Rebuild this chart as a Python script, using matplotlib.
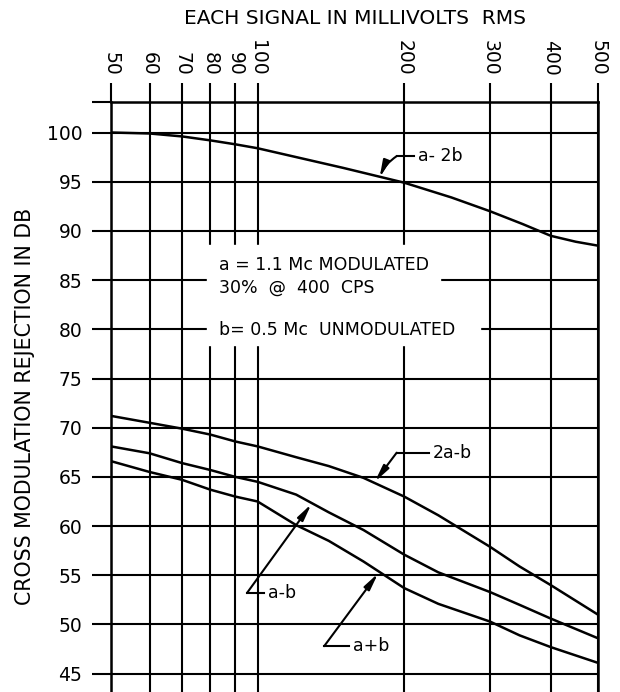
import numpy as np
import matplotlib
matplotlib.use("Agg")
import matplotlib.pyplot as plt
from matplotlib.patches import Rectangle
from matplotlib.ticker import FixedLocator, NullLocator, FixedFormatter

plt.rcParams['font.family'] = ['DejaVu Sans']

# data (millivolts rms, dB)
x_ticks = [50, 60, 70, 80, 90, 100, 200, 300, 400, 500]
y_ticks = [45, 50, 55, 60, 65, 70, 75, 80, 85, 90, 95, 100]

x_a2b = [50, 60, 70, 80, 90, 100, 150, 200, 250, 300, 350, 400, 450, 500]
y_a2b = [100.0, 99.9, 99.6, 99.2, 98.8, 98.4, 96.4, 94.9, 93.4, 92.0, 90.7, 89.5, 88.9, 88.5]

x_mv = [50, 60, 70, 80, 90, 100, 120, 140, 165, 200, 235, 300, 345, 400, 500]
y_2ab = [71.2, 70.5, 69.9, 69.3, 68.6, 68.1, 67.0, 66.1, 64.9, 63.0, 61.1, 57.9, 55.9, 54.0, 51.0]
y_amb = [68.1, 67.4, 66.4, 65.7, 65.0, 64.5, 63.2, 61.4, 59.6, 57.1, 55.3, 53.3, 52.0, 50.6, 48.6]
y_apb = [66.6, 65.5, 64.7, 63.7, 63.0, 62.5, 60.1, 58.5, 56.4, 53.7, 52.1, 50.3, 48.9, 47.7, 46.1]

fig = plt.figure(figsize=(6.2, 6.92), dpi=100)
ax = fig.add_axes([111/620, 0, 487/620, 590/692])
ax.set_xscale('log')
ax.set_xlim(50, 500)
ytop = 103.1
ax.set_ylim(43.14, ytop)

ax.xaxis.set_major_locator(FixedLocator(x_ticks))
ax.xaxis.set_minor_locator(NullLocator())
ax.xaxis.set_major_formatter(FixedFormatter([str(v) for v in x_ticks]))
ax.set_yticks(y_ticks + [ytop])
ax.set_yticklabels([str(v) for v in y_ticks] + [''])

ax.xaxis.tick_top()
ax.tick_params(axis='x', which='major', direction='out', length=13.7, width=1.5,
               pad=5, labelsize=13.5, labelrotation=-90, top=True, bottom=False)
ax.tick_params(axis='y', direction='out', length=13.7, width=1.5, pad=7, labelsize=13.5)
for lab in ax.get_xticklabels():
    lab.set_rotation(-90)
    lab.set_ha('center')
    lab.set_va('bottom')

ax.grid(True, color='black', lw=1.5)
for s in ['top', 'left', 'right']:
    ax.spines[s].set_linewidth(1.8)
ax.spines['bottom'].set_visible(False)

lw = 1.8
ax.plot(x_a2b, y_a2b, color='black', lw=lw, zorder=3)
ax.plot(x_mv, y_2ab, color='black', lw=lw, zorder=3)
ax.plot(x_mv, y_amb, color='black', lw=lw, zorder=3)
ax.plot(x_mv, y_apb, color='black', lw=lw, zorder=3)

# white patches behind the note
ax.add_patch(Rectangle((78.7, 81.96), 237 - 78.7, 88.57 - 81.96, color='white', zorder=2))
ax.add_patch(Rectangle((78.7, 78.4), 286 - 78.7, 81.96 - 78.4, color='white', zorder=2))
ax.text(83.3, 86.5, 'a = 1.1 Mc MODULATED', fontsize=12.5, va='center', ha='left', zorder=4)
ax.text(83.3, 84.2, '30%  @  400  CPS', fontsize=12.5, va='center', ha='left', zorder=4)
ax.text(83.3, 79.9, 'b= 0.5 Mc  UNMODULATED', fontsize=12.5, va='center', ha='left', zorder=4)

arrow = dict(arrowstyle='-|>,head_length=1.0,head_width=0.2', color='black', lw=1.5,
             shrinkA=0, shrinkB=0)

def label(txt, corner, tip, text_x, rad=0.0):
    ax.plot([corner[0], text_x * 0.98], [corner[1], corner[1]], color='black', lw=1.5, zorder=4)
    a = dict(arrow)
    a['connectionstyle'] = 'arc3,rad=%s' % rad
    ax.annotate('', xy=tip, xytext=corner, arrowprops=a, zorder=4)
    ax.text(text_x, corner[1], txt, fontsize=12.5, va='center', ha='left', zorder=4)

label('a- 2b', (193, 97.6), (178, 95.4), 213.4, rad=0.15)
label('2a-b', (193, 67.46), (174, 64.5), 229)
label('a-b', (95.1, 53.2), (129, 62.25), 105)
label('a+b', (137, 47.8), (176.8, 55.2), 157)

fig.text(355.5/620, 1 - 18/692, 'EACH SIGNAL IN MILLIVOLTS  RMS', fontsize=14.5,
         ha='center', va='center')
fig.text(25/620, 1 - 406/692, 'CROSS MODULATION REJECTION IN DB', fontsize=14.8,
         ha='center', va='center', rotation=90)

fig.savefig('out.png', dpi=100)
